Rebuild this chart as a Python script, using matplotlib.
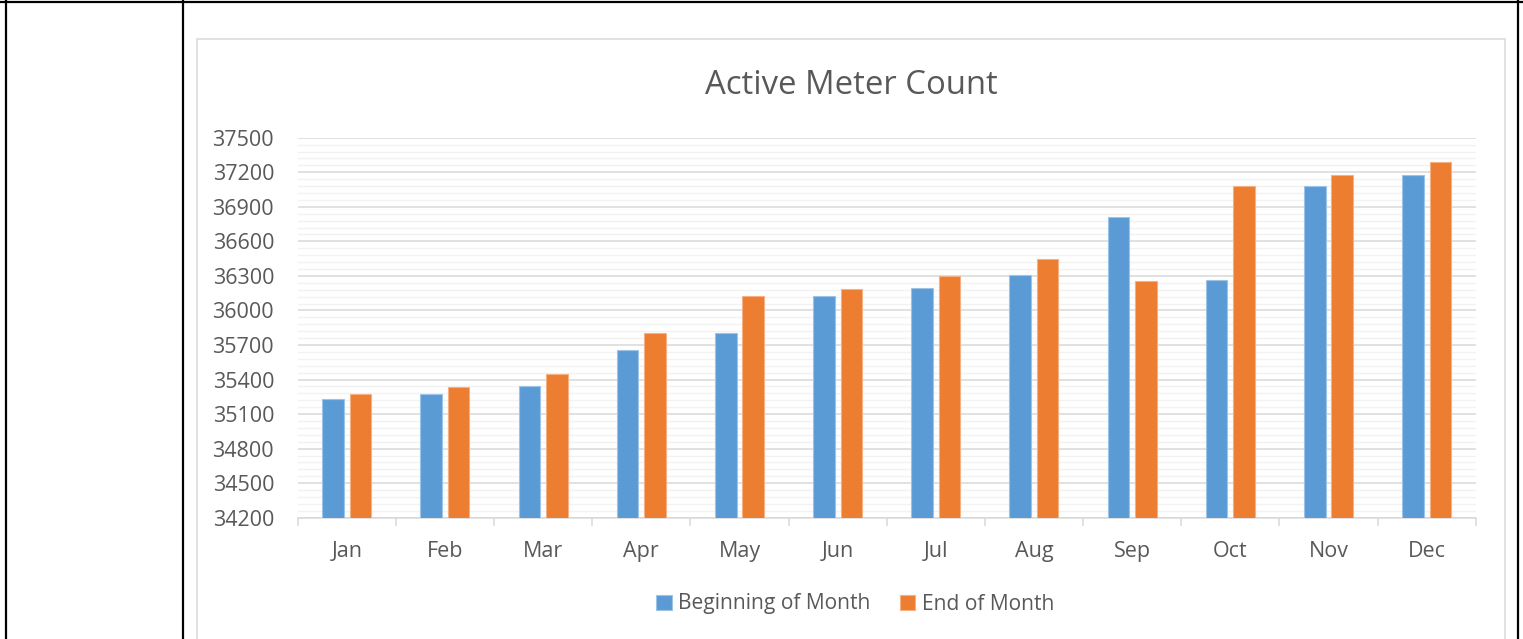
import matplotlib.pyplot as plt
from matplotlib.lines import Line2D
from matplotlib.patches import Rectangle
from matplotlib.ticker import MultipleLocator
import numpy as np

plt.rcParams['font.family'] = ['Open Sans', 'DejaVu Sans']

months = ["Jan", "Feb", "Mar", "Apr", "May", "Jun",
          "Jul", "Aug", "Sep", "Oct", "Nov", "Dec"]
begin_month = [35231, 35277, 35342, 35656, 35806, 36124,
               36192, 36309, 36810, 36260, 37078, 37174]
end_month = [35276, 35338, 35451, 35800, 36124, 36190,
             36300, 36445, 36254, 37078, 37172, 37287]
y_ticks = list(range(34200, 37501, 300))

W, H = 1523, 639
TEXT = "#595959"
BLUE, ORANGE = "#5B9BD5", "#ED7D31"


def fx(x):
    return x / W


def fy(y):
    return 1 - y / H


fig = plt.figure(figsize=(W / 100, H / 100), dpi=100)

# table cell borders around the chart
for (x0, y0, x1, y1) in [(0, 1.5, W, 1.5), (6, 0, 6, H), (183, 0, 183, H), (1518, 0, 1518, H)]:
    fig.add_artist(Line2D([fx(x0), fx(x1)], [fy(y0), fy(y1)], color="black", lw=1.6))

# chart frame
fig.add_artist(Rectangle((fx(197), fy(650)), fx(1505 - 197), (650 - 39) / H,
                         fill=False, edgecolor="#D9D9D9", lw=1.1))

ax = fig.add_axes([fx(297.7), fy(517.7), fx(1475.7 - 297.7), (517.7 - 137.7) / H])

x = np.arange(len(months))
bw = 0.22
ax.bar(x - 0.14, begin_month, bw, color=BLUE, edgecolor="#9DC3E6", lw=0.8,
       label="Beginning of Month", zorder=3)
ax.bar(x + 0.14, end_month, bw, color=ORANGE, edgecolor="#F4B183", lw=0.8,
       label="End of Month", zorder=3)

ax.set_ylim(34200, 37500)
ax.set_xlim(-0.5, len(months) - 0.5)
ax.set_yticks(y_ticks)
ax.yaxis.set_minor_locator(MultipleLocator(60))
ax.set_xticks(x)
ax.set_xticklabels(months)
ax.set_xticks(np.arange(-0.5, len(months)), minor=True)

ax.grid(axis="y", which="major", color="#D9D9D9", lw=1.1, zorder=0)
ax.grid(axis="y", which="minor", color="#F2F2F2", lw=1.0, zorder=0)
ax.set_axisbelow(True)

for s in ["top", "left", "right"]:
    ax.spines[s].set_visible(False)
ax.spines["bottom"].set_color("#D9D9D9")
ax.spines["bottom"].set_linewidth(1.1)

ax.tick_params(axis="y", which="both", length=0, pad=17, labelsize=15.5, labelcolor=TEXT)
ax.tick_params(axis="x", which="major", length=0, pad=17, labelsize=15.5, labelcolor=TEXT)
ax.tick_params(axis="x", which="minor", length=6, width=1.1, color="#D9D9D9")

fig.text(fx(851), fy(86), "Active Meter Count", ha="center", va="center",
         fontsize=23.7, color=TEXT)

fig.legend(loc="center", bbox_to_anchor=(fx(855), fy(604)), ncol=2, frameon=False,
           fontsize=15.1, labelcolor=TEXT, handlelength=0.75, handleheight=0.75,
           handletextpad=0.3, columnspacing=1.4)

fig.savefig("out.png", dpi=100)
